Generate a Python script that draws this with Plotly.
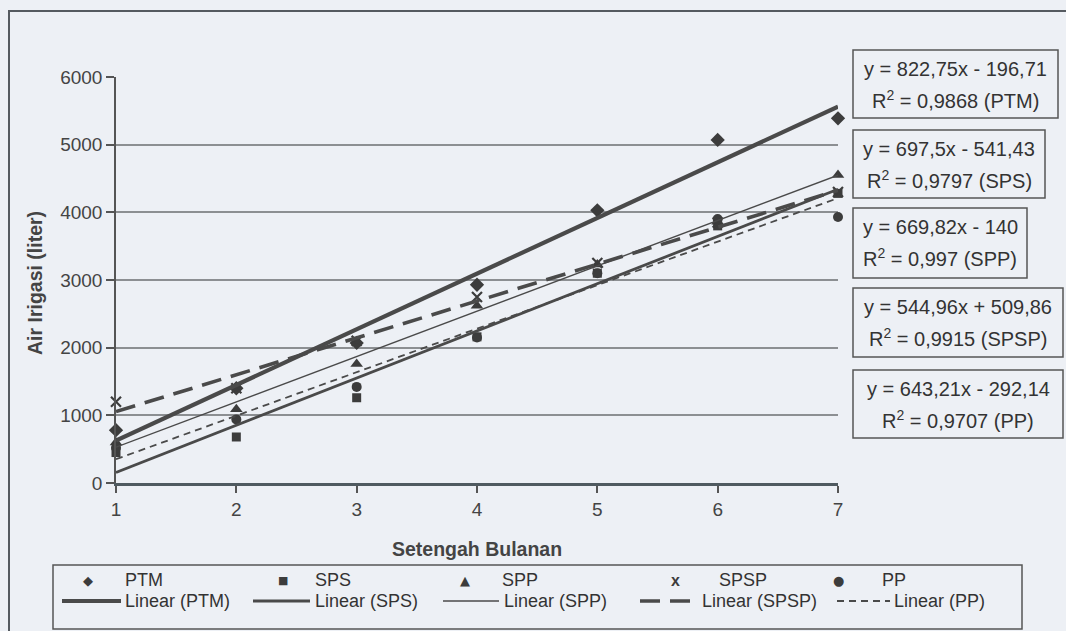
import plotly.graph_objects as go

# ---------------- data ----------------
periods = [1, 2, 3, 4, 5, 6, 7]
series_names = ["PTM", "SPS", "SPP", "SPSP", "PP"]
ptm = [780, 1400, 2070, 2930, 4030, 5070, 5390]
sps = [450, 680, 1260, 2160, 3100, 3800, 4280]
spp = [600, 1090, 1760, 2620, 3230, 3860, 4550]
spsp = [1200, 1400, 2100, 2750, 3250, 3850, 4300]
pp = [520, 940, 1420, 2150, 3100, 3900, 3930]
# trendline coefficients as printed on the chart
slopes = [822.75, 697.5, 669.82, 544.96, 643.21]
intercepts = [-196.71, -541.43, -140.0, 509.86, -292.14]
eq_lines = ["y = 822,75x - 196,71", "y = 697,5x - 541,43", "y = 669,82x - 140",
            "y = 544,96x + 509,86", "y = 643,21x - 292,14"]
r2_lines = ["R<sup>2</sup> = 0,9868 (PTM)", "R<sup>2</sup> = 0,9797 (SPS)",
            "R<sup>2</sup> = 0,997 (SPP)", "R<sup>2</sup> = 0,9915 (SPSP)",
            "R<sup>2</sup> = 0,9707 (PP)"]
y_ticks = [0, 1000, 2000, 3000, 4000, 5000, 6000]

values = [ptm, sps, spp, spsp, pp]

# ---------------- geometry helpers ----------------
W, H = 1066, 631
L, R, T, B = 116, 838, 77, 483   # plot area in pixels
def px(x):
    return (x - L) / (R - L)
def py(y):
    return (B - y) / (B - T)

INK = "#3c3c3c"
FONT = "Liberation Sans, Arial, sans-serif"

symbols = ["diamond", "square", "triangle-up", "x-thin-open", "circle"]
msizes = [11, 9, 11, 10, 10]
line_widths = [4.2, 2.8, 1.4, 3.6, 1.8]
line_dash = ["solid", "solid", "solid", "20px,10px", "7px,5px"]

fig = go.Figure()

for i, name in enumerate(series_names):
    m = dict(symbol=symbols[i], size=msizes[i], color=INK)
    if symbols[i] == "x-thin-open":
        m["line"] = dict(color=INK, width=2.2)
    fig.add_trace(go.Scatter(x=periods, y=values[i], mode="markers", name=name,
                             marker=m, cliponaxis=False, showlegend=False))

for i, name in enumerate(series_names):
    xs = [periods[0], periods[-1]]
    ys = [slopes[i] * x + intercepts[i] for x in xs]
    fig.add_trace(go.Scatter(x=xs, y=ys, mode="lines", name="Linear (%s)" % name,
                             line=dict(color="#4a4a4a", width=line_widths[i], dash=line_dash[i]),
                             showlegend=False))

shapes = []
annotations = []

def note(x, y, text, size, xanchor="center", family=FONT, color="#333", **kw):
    d = dict(xref="paper", yref="paper", x=x, y=y, text=text, showarrow=False,
             xanchor=xanchor, yanchor="middle",
             font=dict(size=size, color=color, family=family))
    d.update(kw)
    annotations.append(d)

# outer chart frame
shapes.append(dict(type="rect", xref="paper", yref="paper",
                   x0=px(9), x1=px(1075), y0=py(11), y1=py(645),
                   line=dict(color="#555a60", width=2)))

# equation boxes
boxes = [(853, 1058, 50, 118), (853, 1045, 130, 198), (853, 1027, 208, 278),
         (853, 1063, 288, 357), (853, 1063, 370, 438)]
for i, (x0, x1, y0, y1) in enumerate(boxes):
    shapes.append(dict(type="rect", xref="paper", yref="paper",
                       x0=px(x0), x1=px(x1), y0=py(y0), y1=py(y1),
                       line=dict(color="#555", width=1.5), fillcolor="rgba(0,0,0,0)"))
    cx = px((x0 + x1) / 2)
    note(cx, py(y0 + 19), eq_lines[i], 20)
    note(cx, py(y0 + 49), r2_lines[i], 20)

# axis titles
note(px(35), py(283), "<b>Air Irigasi (liter)</b>", 19.5, color="#444", textangle=-90)
note(px(477), py(549), "<b>Setengah Bulanan</b>", 19.5, color="#444")

# legend box
shapes.append(dict(type="rect", xref="paper", yref="paper",
                   x0=px(53), x1=px(1022), y0=py(565), y1=py(629),
                   line=dict(color="#555", width=1.5)))
marker_x = [88, 283, 465, 675, 838]
marker_text_x = [123, 313, 500, 717, 880]
glyphs = ["◆", "■", "▲", "x", "●"]
glyph_sizes = [13, 11, 13, 16, 13]
glyph_fonts = ["DejaVu Sans", "DejaVu Sans", "DejaVu Sans", "Liberation Sans", "DejaVu Sans"]
for i in range(5):
    txt = "<b>x</b>" if glyphs[i] == "x" else glyphs[i]
    note(px(marker_x[i]), py(580), txt, glyph_sizes[i], family=glyph_fonts[i], color=INK)
    note(px(marker_text_x[i]), py(580), series_names[i], 18, xanchor="left")
sample_x = [(62, 121), (253, 310), (443, 499), (640, 698), (837, 890)]
line_text_x = [123, 313, 502, 700, 892]
for i in range(5):
    shapes.append(dict(type="line", xref="paper", yref="paper",
                       x0=px(sample_x[i][0]), x1=px(sample_x[i][1]), y0=py(601), y1=py(601),
                       line=dict(color="#4a4a4a", width=line_widths[i], dash=line_dash[i])))
    note(px(line_text_x[i]), py(601), "Linear (%s)" % series_names[i], 18, xanchor="left")

fig.update_layout(
    width=W, height=H,
    margin=dict(l=L, r=W - R, t=T, b=H - B),
    paper_bgcolor="#edf0f5", plot_bgcolor="#edf0f5",
    showlegend=False,
    shapes=shapes, annotations=annotations,
    font=dict(family=FONT, color="#444"),
    xaxis=dict(range=[1, 7], tickvals=periods, ticks="outside", ticklen=7,
               tickcolor="#555", tickwidth=1.5, showline=True, linecolor="#4f5a60",
               linewidth=2.5, showgrid=False, zeroline=False,
               tickfont=dict(size=19, color="#444", family=FONT)),
    yaxis=dict(range=[0, 6000], tickvals=y_ticks, ticks="outside", ticklen=8,
               tickcolor="#555", tickwidth=1.5, showline=True, linecolor="#555",
               linewidth=1.5, showgrid=True, gridcolor="#8c8f92", gridwidth=1.5,
               zeroline=False, tickfont=dict(size=19, color="#444", family=FONT)),
)

fig.write_html("out.html", config={"displayModeBar": False},
               post_script="document.body.style.margin='0';document.body.style.background='#edf0f5';")
